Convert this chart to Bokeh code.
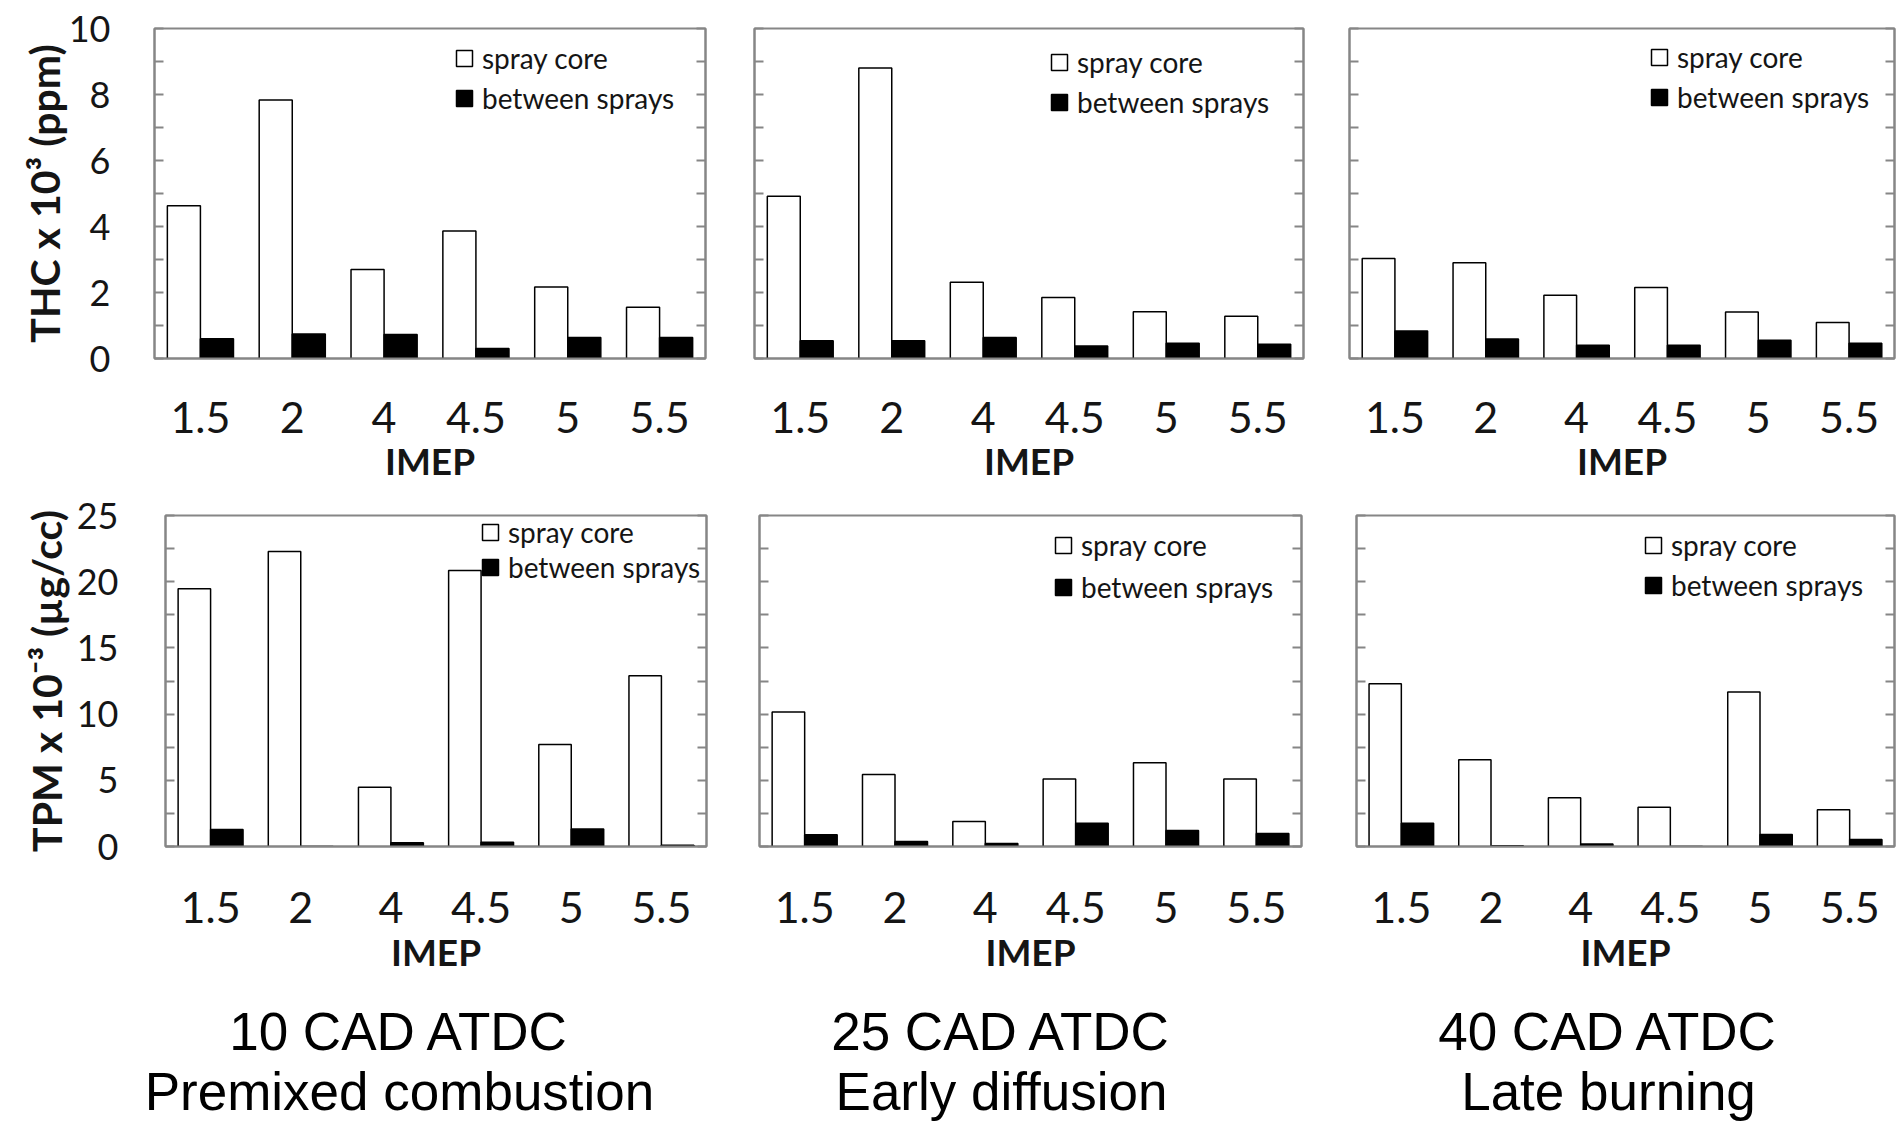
from bokeh.plotting import figure
from bokeh.models import (FactorRange, Range1d, LinearAxis, FixedTicker, Legend, LegendItem,
                          ColumnDataSource, CustomJSTickFormatter)
from bokeh.transform import dodge
from bokeh.layouts import column, row
from bokeh.embed import file_html
from bokeh.resources import INLINE
from bokeh.core.properties import value

# ---------------- data ----------------
imep = ["1.5", "2", "4", "4.5", "5", "5.5"]

thc_core_10 = [4.63, 7.83, 2.70, 3.86, 2.17, 1.55]
thc_between_10 = [0.60, 0.74, 0.73, 0.30, 0.64, 0.64]
thc_core_25 = [4.92, 8.80, 2.31, 1.85, 1.42, 1.28]
thc_between_25 = [0.54, 0.54, 0.64, 0.38, 0.46, 0.43]
thc_core_40 = [3.03, 2.90, 1.92, 2.15, 1.41, 1.09]
thc_between_40 = [0.83, 0.59, 0.40, 0.40, 0.55, 0.46]

tpm_core_10 = [19.46, 22.28, 4.48, 20.85, 7.70, 12.90]
tpm_between_10 = [1.28, 0.0, 0.28, 0.33, 1.33, 0.10]
tpm_core_25 = [10.15, 5.44, 1.89, 5.09, 6.32, 5.09]
tpm_between_25 = [0.88, 0.38, 0.23, 1.76, 1.21, 0.98]
tpm_core_40 = [12.29, 6.55, 3.68, 2.97, 11.66, 2.77]
tpm_between_40 = [1.76, 0.05, 0.18, 0.0, 0.91, 0.53]

thc_major = [0, 2, 4, 6, 8, 10]
thc_minor = [1, 3, 5, 7, 9]
tpm_major = [0, 5, 10, 15, 20, 25]
tpm_minor = [2.5, 7.5, 12.5, 17.5, 22.5]

series_labels = ["spray core", "between sprays"]
thc_title = "THC x 10\u00b3 (ppm)"
tpm_title = "TPM x 10\u207b\u00b3 (\u00b5g/cc)"
x_title = "IMEP"
caption_line1 = ["10 CAD ATDC", "25 CAD ATDC", "40 CAD ATDC"]
caption_line2 = ["Premixed combustion", "Early diffusion", "Late burning"]

GRAY = "#868686"
TXT = "#151515"
FONT = "Lato"
EMPTY = CustomJSTickFormatter(code="return ''")


def style_yaxis(ax, major, minor, labels, title=None, standoff=44, title_standoff=0):
    ax.ticker = FixedTicker(ticks=major, minor_ticks=minor)
    ax.major_tick_in = 9
    ax.major_tick_out = 0
    ax.minor_tick_in = 9
    ax.minor_tick_out = 0
    ax.major_tick_line_color = GRAY
    ax.minor_tick_line_color = GRAY
    ax.major_tick_line_width = 2
    ax.minor_tick_line_width = 2
    ax.axis_line_color = GRAY
    ax.axis_line_width = 2
    if labels:
        ax.major_label_text_font = FONT
        ax.major_label_text_font_size = "36px"
        ax.major_label_text_color = TXT
        ax.major_label_standoff = standoff
        ax.axis_label = title
        ax.axis_label_text_font = FONT
        ax.axis_label_text_font_style = "bold"
        ax.axis_label_text_font_size = "41px"
        ax.axis_label_text_color = TXT
        ax.axis_label_standoff = title_standoff
    else:
        ax.formatter = EMPTY
        ax.major_label_standoff = 0
        ax.axis_label = None


def panel(core, between, ymax, major, minor, width, height, bl, br, bt, bb,
          left_labels, ytitle, legend_xy, spacing, tick_standoff=44, title_standoff=0,
          xlabel_standoff=43, xtitle_standoff=2):
    p = figure(x_range=FactorRange(factors=imep), y_range=Range1d(0, ymax),
               width=width, height=height, output_backend="svg", toolbar_location=None,
               title=None,
               min_border_left=bl, min_border_right=br, min_border_top=bt, min_border_bottom=bb)
    p.grid.visible = False
    p.outline_line_color = GRAY
    p.outline_line_width = 2
    p.background_fill_color = "white"
    p.border_fill_color = "white"

    src = ColumnDataSource(dict(imep=imep, core=core, between=between))
    r1 = p.vbar(x=dodge("imep", -0.18, range=p.x_range), top="core", width=0.36, source=src,
                fill_color="white", line_color="black", line_width=1.5)
    r2 = p.vbar(x=dodge("imep", 0.18, range=p.x_range), top="between", width=0.36, source=src,
                fill_color="black", line_color="black", line_width=1.5)

    style_yaxis(p.yaxis[0], major, minor, left_labels, ytitle, standoff=tick_standoff,
                title_standoff=title_standoff)
    rax = LinearAxis()
    style_yaxis(rax, major, minor, False)
    p.add_layout(rax, "right")

    xax = p.xaxis[0]
    xax.major_tick_line_color = None
    xax.major_tick_in = 0
    xax.major_tick_out = 0
    xax.axis_line_color = GRAY
    xax.axis_line_width = 2
    xax.major_label_text_font = FONT
    xax.major_label_text_font_size = "43px"
    xax.major_label_text_color = TXT
    xax.major_label_standoff = xlabel_standoff
    xax.axis_label = x_title
    xax.axis_label_text_font = FONT
    xax.axis_label_text_font_style = "bold"
    xax.axis_label_text_font_size = "37px"
    xax.axis_label_text_color = TXT
    xax.axis_label_standoff = xtitle_standoff

    leg = Legend(items=[LegendItem(label=series_labels[0], renderers=[r1]),
                        LegendItem(label=series_labels[1], renderers=[r2])],
                 location=legend_xy, padding=0, margin=0, spacing=spacing,
                 border_line_color=None, background_fill_alpha=0,
                 glyph_width=20, glyph_height=20, label_standoff=8,
                 label_text_font=FONT, label_text_font_size="28px",
                 label_height=34, label_text_color=TXT)
    p.add_layout(leg)
    return p


# top row (THC): frames at x [154,705], [754,1303], [1349,1894]; y [28,358]
t1 = panel(thc_core_10, thc_between_10, 10, thc_major, thc_minor, 725, 488, 154, 20, 28, 130,
           True, thc_title, (300, 243), 6, title_standoff=-3)
t2 = panel(thc_core_25, thc_between_25, 10, thc_major, thc_minor, 598, 488, 29, 20, 28, 130,
           False, None, (295, 239), 6)
t3 = panel(thc_core_40, thc_between_40, 10, thc_major, thc_minor, 573, 488, 26, 2, 28, 130,
           False, None, (300, 244), 6)

# bottom row (TPM): frames at x [165,706], [759,1301], [1356,1894]; y [515,846]
b1 = panel(tpm_core_10, tpm_between_10, 25, tpm_major, tpm_minor, 726, 495, 165, 20, 27, 137,
           True, tpm_title, (315, 262), 1, tick_standoff=47, title_standoff=3,
           xlabel_standoff=45, xtitle_standoff=3)
b2 = panel(tpm_core_25, tpm_between_25, 25, tpm_major, tpm_minor, 595, 495, 33, 20, 27, 137,
           False, None, (294, 242), 8, xlabel_standoff=45, xtitle_standoff=3)
b3 = panel(tpm_core_40, tpm_between_40, 25, tpm_major, tpm_minor, 575, 495, 35, 2, 27, 137,
           False, None, (287, 244), 6, xlabel_standoff=45, xtitle_standoff=3)

# captions
cap_h = 140
cap = figure(width=1896, height=cap_h, x_range=Range1d(0, 1896), y_range=Range1d(cap_h, 0),
             output_backend="svg", toolbar_location=None, min_border=0, title=None)
cap.xaxis.visible = False
cap.yaxis.visible = False
cap.grid.visible = False
cap.outline_line_color = None
cap_x = [399, 1001, 1608]
cap.text(x=cap_x, y=[48] * 3, text=caption_line1, text_font=value("Liberation Sans"),
         text_font_size="53px", text_align="center", text_baseline="alphabetic", text_color="black")
cap.text(x=cap_x, y=[108] * 3, text=caption_line2, text_font=value("Liberation Sans"),
         text_font_size="53px", text_align="center", text_baseline="alphabetic", text_color="black")

layout = column(row(t1, t2, t3, spacing=0), row(b1, b2, b3, spacing=0), cap, spacing=0)
open("out.html", "w").write(file_html(layout, INLINE))
